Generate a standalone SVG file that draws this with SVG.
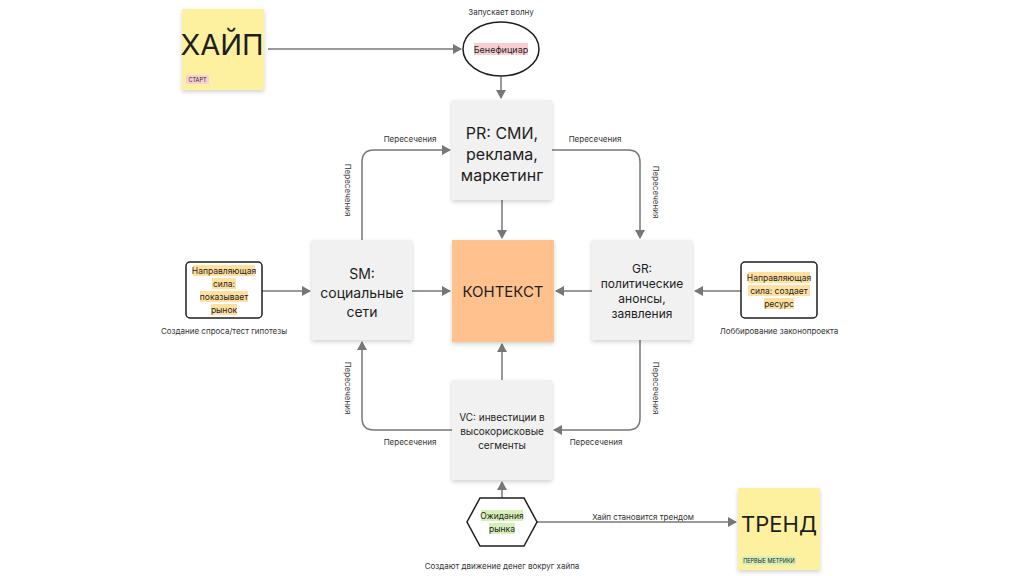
<svg xmlns="http://www.w3.org/2000/svg" width="1024" height="576" viewBox="0 0 1024 576">
<defs>
<marker id="ar" markerWidth="10" markerHeight="10" refX="8" refY="5" orient="auto" markerUnits="userSpaceOnUse"><path d="M0,0 L9,5 L0,10 Z" fill="#777"/></marker>
<filter id="sh" x="-10%" y="-10%" width="130%" height="130%"><feDropShadow dx="0" dy="2" stdDeviation="2" flood-opacity="0.18"/></filter>
</defs>
<style>
text{font-family:Inter,"Noto Sans",sans-serif;fill:#1e1e1e;text-anchor:middle}
.box{fill:#f1f1f1;filter:url(#sh)}
.sticky{fill:#fdf1a0;filter:url(#sh)}
.c{fill:none;stroke:#777;stroke-width:1.5;marker-end:url(#ar)}
.s{font-size:8px;fill:#333}
.hy{fill:#ffe09e}
</style>
<rect width="1024" height="576" fill="#fff"/>
<g id="connectors">
<path class="c" d="M268,49 H461"/>
<path class="c" d="M501,77 V98"/>
<path class="c" d="M502,200 V238"/>
<path class="c" d="M262,291 H310"/>
<path class="c" d="M412,291 H450"/>
<path class="c" d="M741,291 H695"/>
<path class="c" d="M592,291 H556"/>
<path class="c" d="M502,380 V344"/>
<path class="c" d="M502,498 V482"/>
<path class="c" d="M537,522 H736"/>
<path class="c" d="M362,240 V162 Q362,150 374,150 H450"/>
<path class="c" d="M552,150 H628 Q640,150 640,162 V238"/>
<path class="c" d="M640,340 V418 Q640,430 628,430 H554"/>
<path class="c" d="M452,430 H374 Q362,430 362,418 V342"/>
<text class="s" x="410" y="142">Пересечения</text>
<text class="s" x="595" y="142">Пересечения</text>
<text class="s" x="410" y="445">Пересечения</text>
<text class="s" x="596" y="445">Пересечения</text>
<text class="s" transform="translate(345,190) rotate(90)">Пересечения</text>
<text class="s" transform="translate(653,192) rotate(90)">Пересечения</text>
<text class="s" transform="translate(653,388) rotate(90)">Пересечения</text>
<text class="s" transform="translate(345,388) rotate(90)">Пересечения</text>
<text class="s" x="643" y="520">Хайп становится трендом</text>
</g>
<g id="hype">
<rect class="sticky" x="182" y="9" width="82" height="81"/>
<text x="222" y="55" font-size="29">ХАЙП</text>
<rect x="186" y="75" width="23" height="9" rx="2" fill="#f9cfd2"/>
<text x="197.5" y="82" font-size="5.5" fill="#9a2a3a">СТАРТ</text>
</g>
<g id="beneficiary">
<text class="s" x="501" y="15">Запускает волну</text>
<ellipse cx="501" cy="49" rx="38" ry="27" fill="#fff" stroke="#1e1e1e" stroke-width="1.5"/>
<rect x="474" y="43" width="54" height="12" fill="#f9cfd2"/>
<text x="501" y="53" font-size="9">Бенефициар</text>
</g>
<g id="pr">
<rect class="box" x="452" y="100" width="100" height="100"/>
<text x="502" y="139" font-size="16">PR: СМИ,</text>
<text x="502" y="160" font-size="16">реклама,</text>
<text x="502" y="181" font-size="16">маркетинг</text>
</g>
<g id="context">
<rect x="452" y="240" width="102" height="102" fill="#ffc28f" filter="url(#sh)"/>
<text x="503" y="297" font-size="15">КОНТЕКСТ</text>
</g>
<g id="sm">
<rect class="box" x="312" y="240" width="100" height="100"/>
<text x="362" y="279" font-size="14">SM:</text>
<text x="362" y="298" font-size="14">социальные</text>
<text x="362" y="317" font-size="14">сети</text>
</g>
<g id="gr">
<rect class="box" x="592" y="240" width="100" height="100"/>
<text x="642" y="273" font-size="12">GR:</text>
<text x="642" y="288" font-size="12">политические</text>
<text x="642" y="303" font-size="12">анонсы,</text>
<text x="642" y="318" font-size="12">заявления</text>
</g>
<g id="vc">
<rect class="box" x="452" y="380" width="100" height="100"/>
<text x="502" y="421" font-size="10">VC: инвестиции в</text>
<text x="502" y="435" font-size="10">высокорисковые</text>
<text x="502" y="449" font-size="10">сегменты</text>
</g>
<g id="left">
<rect x="186" y="262" width="76" height="56" rx="4" fill="#fff" stroke="#1e1e1e" stroke-width="1.5"/>
<rect x="193" y="265" width="62" height="11" class="hy"/>
<rect x="212" y="278" width="24" height="11" class="hy"/>
<rect x="200" y="291" width="48" height="11" class="hy"/>
<rect x="211" y="304" width="26" height="11" class="hy"/>
<text x="224" y="274" font-size="8.5">Направляющая</text>
<text x="224" y="287" font-size="8.5">сила:</text>
<text x="224" y="300" font-size="8.5">показывает</text>
<text x="224" y="313" font-size="8.5">рынок</text>
<text class="s" x="224" y="334">Создание спроса/тест гипотезы</text>
</g>
<g id="right">
<rect x="741" y="262" width="76" height="56" rx="4" fill="#fff" stroke="#1e1e1e" stroke-width="1.5"/>
<rect x="748" y="272" width="62" height="11" class="hy"/>
<rect x="748" y="285" width="62" height="11" class="hy"/>
<rect x="764" y="298" width="30" height="11" class="hy"/>
<text x="779" y="281" font-size="8.5">Направляющая</text>
<text x="779" y="294" font-size="8.5">сила: создает</text>
<text x="779" y="307" font-size="8.5">ресурс</text>
<text class="s" x="779" y="334">Лоббирование законопроекта</text>
</g>
<g id="expect">
<polygon points="480,498 524,498 537,522 524,546 480,546 467,522" fill="#fff" stroke="#1e1e1e" stroke-width="1.5"/>
<rect x="481" y="510" width="42" height="11" fill="#d6f0b8"/>
<rect x="489" y="523" width="26" height="11" fill="#d6f0b8"/>
<text x="502" y="519" font-size="8.5">Ожидания</text>
<text x="502" y="532" font-size="8.5">рынка</text>
<text class="s" x="502" y="569">Создают движение денег вокруг хайпа</text>
</g>
<g id="trend">
<rect class="sticky" x="738" y="488" width="82" height="82"/>
<text x="779" y="532" font-size="22">ТРЕНД</text>
<rect x="742" y="556" width="54" height="9" rx="2" fill="#d6f0b8"/>
<text x="769" y="563" font-size="5.5" fill="#2f6b2a">ПЕРВЫЕ МЕТРИКИ</text>
</g>
</svg>
